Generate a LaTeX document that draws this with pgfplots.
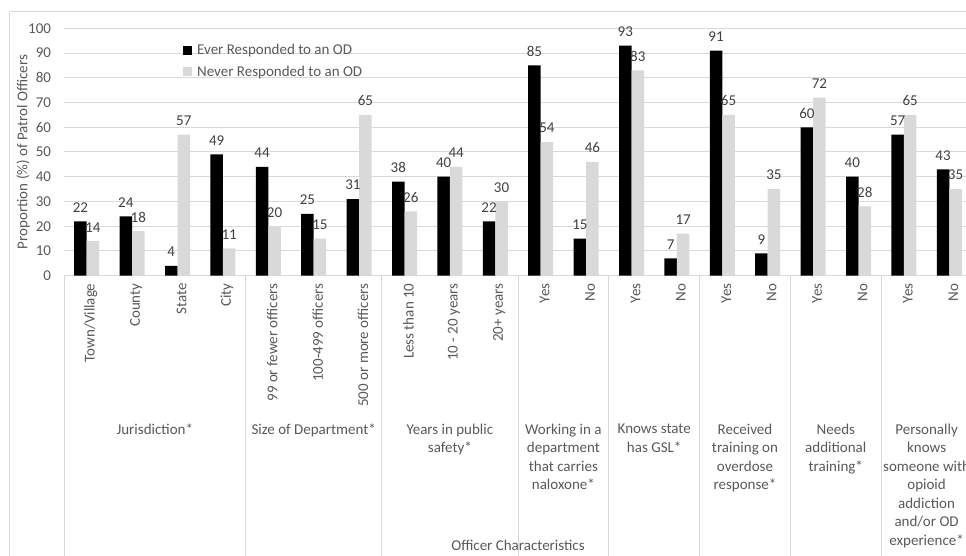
\documentclass[border=0pt]{standalone}
\usepackage{fontspec}
\setmainfont{Carlito}
\usepackage{pgfplots}
\pgfplotsset{compat=1.18}
\definecolor{evercol}{RGB}{0,0,0}
\definecolor{nevercol}{RGB}{217,217,217}
\definecolor{gridcol}{RGB}{217,217,217}
\definecolor{txtcol}{RGB}{89,89,89}
\definecolor{numcol}{RGB}{64,64,64}

% Ever responded / never responded to an OD, categories at 0..19
\pgfplotstableread{
x ever never
0 22 14
1 24 18
2 4 57
3 49 11
4 44 20
5 25 15
6 31 65
7 38 26
8 40 44
9 22 30
10 85 54
11 15 46
12 93 83
13 7 17
14 91 65
15 9 35
16 60 72
17 40 28
18 57 65
19 43 35
}\ods

\begin{document}
\begin{tikzpicture}[font=\fontsize{15}{18.5}\selectfont]
\useasboundingbox (-64pt,-280pt) rectangle (902pt,275.7pt);
\draw[gridcol, line width=1pt] (-54pt,263.7pt) -- (910pt,263.7pt);
\draw[gridcol, line width=1pt] (-54pt,263.7pt) -- (-54pt,-290pt);
\begin{axis}[
  at={(0,0)}, anchor=south west, scale only axis,
  width=908pt, height=247.4pt,
  ybar=0pt, bar width=12.5pt,
  xmin=-0.5, xmax=19.5, ymin=0, ymax=100,
  xtick={0,...,19},
  xticklabels={Town/Village, County, State, City,
    99 or fewer officers, 100-499 officers, 500 or more officers,
    Less than 10, 10 - 20 years, 20+ years,
    Yes, No, Yes, No, Yes, No, Yes, No, Yes, No},
  xticklabel style={rotate=90, anchor=east, yshift=-4pt, text=txtcol},
  ytick={0,10,...,100},
  yticklabel style={text=txtcol, xshift=-9.5pt},
  /pgf/number format/assume math mode=true,
  axis line style={draw=none},
  tick style={draw=none},
  ymajorgrids, grid style={gridcol, line width=1pt},
  ylabel={Proportion (\%) of Patrol Officers},
  ylabel style={at={(rel axis cs:0,0.5)}, anchor=center, yshift=41pt, text=txtcol},
  legend style={at={(0.131,0.945)}, anchor=north west, draw=none, fill=none,
    text=txtcol, row sep=6pt, inner sep=0pt,
    nodes={inner sep=2pt},
    /tikz/every odd column/.append style={column sep=3pt}},
  legend cell align=left,
  legend image code/.code={\fill[#1, draw=none] (0pt,-4.5pt) rectangle (9pt,4.5pt);},
  nodes near coords,
  every node near coord/.append style={text=numcol, yshift=5.5pt},
  clip=false,
]
\addplot[fill=evercol, draw=none] table[x=x, y=ever] {\ods};
\addplot[fill=nevercol, draw=none] table[x=x, y=never] {\ods};
\legend{Ever Responded to an OD, Never Responded to an OD}

\node[text=txtcol, anchor=base] at ([yshift=-275pt]axis cs:9.5,0) {Officer Characteristics};
\pgfplotsinvokeforeach{-0.5,3.5,6.5,9.5,11.5,13.5,15.5,17.5,19.5}{
  \draw[gridcol, line width=1pt] (axis cs:#1,0) -- ([yshift=-285pt]axis cs:#1,0);
}
\tikzset{grp/.style={text=txtcol, anchor=north, align=center, inner sep=0pt}}
\node[grp] at ([yshift=-148pt]axis cs:1.5,0) {Jurisdiction*};
\node[grp] at ([yshift=-148pt]axis cs:5,0) {Size of Department*};
\node[grp] at ([yshift=-148pt]axis cs:8,0) {Years in public\\safety*};
\node[grp] at ([yshift=-148pt]axis cs:10.5,0) {Working in a\\department\\that carries\\naloxone*};
\node[grp] at ([yshift=-148pt]axis cs:12.5,0) {Knows state\\has GSL*};
\node[grp] at ([yshift=-148pt]axis cs:14.5,0) {Received\\training on\\overdose\\response*};
\node[grp] at ([yshift=-148pt]axis cs:16.5,0) {Needs\\additional\\training*};
\node[grp] at ([yshift=-148pt]axis cs:18.5,0) {Personally\\knows\\someone with\\opioid\\addiction\\and/or OD\\experience*};
\end{axis}
\end{tikzpicture}
\end{document}
